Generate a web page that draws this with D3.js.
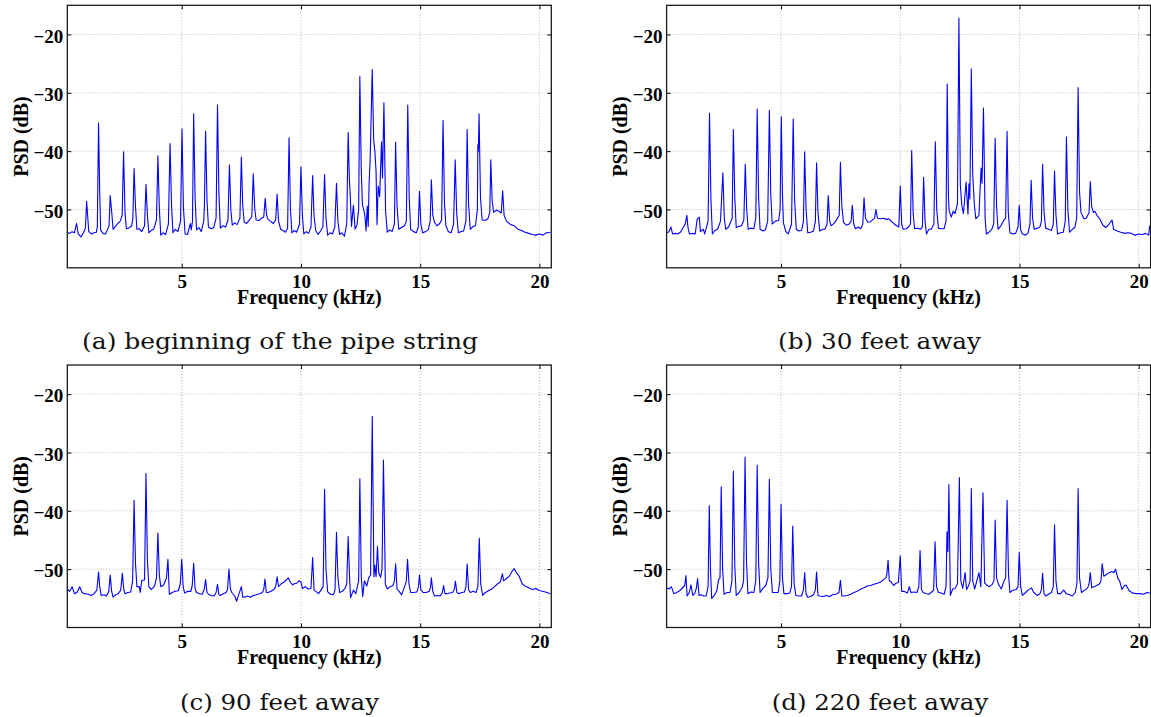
<!DOCTYPE html>
<html>
<head>
<meta charset="utf-8">
<script src="https://cdn.jsdelivr.net/npm/d3@7"></script>
<style>
    body { margin: 0; background: #fff; }
    svg text { font-family: "Liberation Serif", "Times New Roman", serif; }
</style>
</head>
<body>
<div id="chart"></div>
<script>

// tick values
const freqTicks = [5, 10, 15, 20];
const psdTicks = [-50, -40, -30, -20];

// sub-figure captions
const captionA = "(a) beginning of the pipe string";
const captionB = "(b) 30 feet away";
const captionC = "(c) 90 feet away";
const captionD = "(d) 220 feet away";

// PSD traces: [frequency kHz, PSD dB]
const spectrumA = [
    [0.20,-53.9],[0.30,-54.1],[0.40,-53.8],[0.50,-54.0],[0.59,-52.4],[0.66,-54.2],[0.77,-54.7],[0.88,-54.0],
    [0.96,-53.2],[1.01,-48.6],[1.05,-50.9],[1.10,-53.8],[1.22,-54.2],[1.32,-54.0],[1.42,-53.9],[1.46,-53.0],
    [1.51,-35.2],[1.56,-47.2],[1.60,-53.6],[1.70,-54.1],[1.80,-54.2],[1.88,-53.5],[1.95,-52.8],[2.00,-47.6],
    [2.06,-50.3],[2.12,-53.4],[2.20,-53.0],[2.32,-52.4],[2.42,-52.0],[2.50,-51.0],[2.56,-40.1],[2.62,-50.5],
    [2.68,-53.3],[2.78,-53.2],[2.90,-52.8],[2.95,-51.5],[3.00,-43.0],[3.06,-49.5],[3.12,-53.4],[3.22,-53.3],
    [3.32,-53.8],[3.44,-52.8],[3.50,-45.7],[3.56,-51.0],[3.62,-54.0],[3.72,-53.6],[3.82,-53.4],[3.94,-51.8],
    [4.00,-40.8],[4.06,-49.8],[4.12,-54.4],[4.22,-54.0],[4.32,-54.3],[4.44,-52.5],[4.51,-38.7],[4.57,-49.0],
    [4.63,-54.0],[4.72,-53.4],[4.84,-53.8],[4.95,-52.0],[5.01,-36.2],[5.07,-49.6],[5.14,-54.2],[5.24,-54.3],
    [5.36,-52.4],[5.40,-53.5],[5.45,-52.0],[5.50,-33.6],[5.56,-48.0],[5.62,-53.5],[5.72,-53.1],[5.82,-53.8],
    [5.92,-52.0],[5.95,-49.6],[6.00,-36.6],[6.06,-48.5],[6.12,-53.0],[6.24,-53.3],[6.34,-53.1],[6.44,-51.5],
    [6.50,-32.1],[6.56,-47.5],[6.62,-53.2],[6.72,-52.8],[6.84,-53.0],[6.94,-51.8],[7.00,-42.4],[7.06,-50.0],
    [7.12,-52.7],[7.22,-52.3],[7.32,-52.6],[7.44,-51.5],[7.50,-41.0],[7.56,-49.5],[7.62,-52.2],[7.72,-52.4],
    [7.84,-51.8],[7.94,-51.2],[8.00,-43.9],[8.06,-49.8],[8.12,-51.8],[8.24,-51.9],[8.34,-51.5],[8.44,-51.3],
    [8.50,-48.1],[8.56,-51.0],[8.62,-51.7],[8.72,-52.0],[8.84,-52.4],[8.94,-51.8],[9.00,-47.4],[9.06,-52.0],
    [9.15,-53.4],[9.25,-53.6],[9.35,-53.9],[9.44,-53.2],[9.50,-37.7],[9.56,-50.0],[9.62,-54.0],[9.72,-53.6],
    [9.82,-53.9],[9.94,-52.5],[10.00,-42.7],[10.06,-51.0],[10.12,-54.2],[10.22,-53.8],[10.32,-54.1],[10.42,-53.0],
    [10.49,-44.2],[10.55,-51.2],[10.62,-53.6],[10.72,-54.3],[10.82,-53.7],[10.92,-53.0],[10.99,-44.0],[11.05,-51.5],
    [11.12,-54.4],[11.22,-54.0],[11.32,-54.2],[11.42,-53.0],[11.49,-45.5],[11.55,-52.0],[11.62,-54.3],[11.72,-54.0],
    [11.82,-54.6],[11.92,-52.5],[11.98,-36.8],[12.03,-44.8],[12.06,-47.0],[12.12,-52.9],[12.20,-49.3],[12.27,-53.4],
    [12.35,-52.6],[12.42,-50.0],[12.47,-27.2],[12.53,-43.3],[12.58,-49.3],[12.63,-50.0],[12.68,-51.0],[12.73,-53.7],
    [12.78,-49.4],[12.82,-52.9],[12.86,-45.2],[12.90,-41.8],[12.99,-26.0],[13.05,-38.1],[13.10,-40.0],[13.15,-43.5],
    [13.19,-52.6],[13.24,-46.0],[13.30,-47.8],[13.38,-38.4],[13.42,-44.6],[13.48,-31.7],[13.55,-50.3],[13.62,-53.9],
    [13.72,-53.5],[13.82,-53.8],[13.92,-52.5],[13.97,-38.5],[14.03,-49.5],[14.10,-53.4],[14.22,-53.1],[14.34,-52.8],
    [14.42,-52.0],[14.48,-32.1],[14.54,-48.0],[14.60,-53.4],[14.72,-53.8],[14.84,-54.0],[14.92,-53.0],[14.97,-46.9],
    [15.03,-52.5],[15.10,-54.0],[15.22,-53.8],[15.34,-53.5],[15.42,-52.0],[15.47,-44.9],[15.53,-51.0],[15.60,-52.2],
    [15.70,-52.8],[15.82,-52.4],[15.90,-51.8],[15.96,-34.7],[16.02,-49.0],[16.08,-52.8],[16.18,-53.8],[16.30,-54.0],
    [16.40,-52.5],[16.47,-41.5],[16.53,-50.5],[16.60,-54.0],[16.70,-53.8],[16.82,-53.7],[16.92,-52.0],[16.97,-36.3],
    [17.03,-49.0],[17.10,-53.4],[17.22,-52.9],[17.32,-52.8],[17.40,-50.0],[17.42,-38.9],[17.44,-40.0],[17.47,-33.6],
    [17.53,-48.0],[17.60,-51.8],[17.72,-51.9],[17.84,-51.6],[17.92,-50.5],[17.96,-41.5],[18.02,-48.5],[18.08,-50.5],
    [18.20,-50.1],[18.30,-50.3],[18.40,-50.6],[18.46,-46.8],[18.52,-51.0],[18.62,-52.0],[18.80,-52.6],[18.95,-52.8],
    [19.10,-53.4],[19.25,-53.6],[19.40,-53.9],[19.55,-54.1],[19.70,-54.3],[19.85,-54.4],[20.00,-54.2],[20.15,-54.4],
    [20.30,-54.0],[20.46,-53.9]
];

const spectrumB = [
    [0.20,-54.0],[0.30,-53.8],[0.38,-53.0],[0.45,-54.2],[0.55,-54.1],[0.65,-54.2],[0.78,-53.9],[0.98,-52.5],
    [1.05,-51.0],[1.10,-53.2],[1.16,-54.2],[1.30,-54.1],[1.40,-54.2],[1.48,-51.7],[1.57,-51.3],[1.62,-53.8],
    [1.74,-53.4],[1.80,-54.2],[1.94,-52.0],[2.00,-33.5],[2.06,-48.5],[2.12,-54.2],[2.22,-53.6],[2.34,-53.4],
    [2.46,-52.0],[2.56,-43.7],[2.62,-51.5],[2.68,-53.4],[2.80,-53.0],[2.95,-51.5],[3.00,-36.3],[3.06,-48.0],
    [3.12,-53.1],[3.22,-52.9],[3.34,-52.8],[3.44,-51.8],[3.50,-42.2],[3.56,-50.0],[3.62,-53.4],[3.72,-53.2],
    [3.86,-53.3],[3.94,-51.5],[4.00,-32.8],[4.06,-48.0],[4.12,-53.4],[4.24,-53.7],[4.34,-53.5],[4.44,-52.0],
    [4.51,-33.0],[4.57,-47.5],[4.63,-52.5],[4.76,-52.0],[4.90,-51.9],[4.96,-50.0],[5.01,-34.1],[5.06,-47.5],
    [5.10,-52.3],[5.20,-53.8],[5.30,-54.2],[5.44,-52.5],[5.51,-34.5],[5.57,-48.5],[5.64,-53.4],[5.74,-53.7],
    [5.86,-53.6],[5.94,-52.0],[5.99,-40.1],[6.05,-50.0],[6.12,-54.0],[6.24,-53.9],[6.36,-53.7],[6.44,-52.0],
    [6.49,-42.0],[6.55,-50.5],[6.62,-53.7],[6.74,-53.4],[6.84,-53.4],[6.93,-52.5],[6.98,-47.6],[7.04,-52.0],
    [7.10,-52.8],[7.24,-52.3],[7.34,-51.7],[7.44,-51.0],[7.49,-41.9],[7.55,-49.5],[7.62,-52.2],[7.74,-52.7],
    [7.86,-52.5],[7.94,-52.0],[7.99,-49.3],[8.05,-52.5],[8.12,-53.3],[8.24,-53.0],[8.34,-53.3],[8.43,-52.5],
    [8.48,-48.0],[8.54,-51.5],[8.64,-52.2],[8.76,-52.1],[8.92,-51.5],[8.98,-50.0],[9.04,-51.5],[9.20,-51.6],
    [9.30,-51.5],[9.42,-51.7],[9.52,-51.6],[9.62,-52.0],[9.72,-52.4],[9.85,-52.8],[9.94,-53.0],[10.00,-46.0],
    [10.06,-52.5],[10.12,-53.4],[10.25,-53.3],[10.35,-53.0],[10.43,-52.5],[10.48,-39.9],[10.54,-50.5],[10.60,-53.3],
    [10.72,-53.2],[10.85,-53.4],[10.93,-53.0],[10.98,-44.5],[11.04,-52.0],[11.10,-54.2],[11.20,-53.4],[11.30,-53.4],
    [11.41,-52.5],[11.47,-38.4],[11.53,-50.0],[11.60,-53.2],[11.72,-53.3],[11.84,-53.3],[11.92,-52.0],[11.97,-28.5],
    [12.02,-47.7],[12.05,-50.2],[12.14,-51.3],[12.22,-50.3],[12.30,-50.7],[12.40,-49.0],[12.46,-17.2],[12.52,-45.8],
    [12.58,-49.3],[12.65,-50.7],[12.76,-45.3],[12.84,-50.8],[12.88,-45.6],[12.92,-48.2],[12.98,-25.9],[13.04,-44.1],
    [13.11,-49.3],[13.17,-51.6],[13.30,-51.0],[13.39,-42.9],[13.43,-45.5],[13.49,-32.6],[13.56,-51.6],[13.61,-54.2],
    [13.72,-53.9],[13.84,-53.4],[13.92,-52.5],[13.98,-37.8],[14.04,-49.5],[14.10,-53.4],[14.22,-52.8],[14.32,-52.0],
    [14.42,-51.5],[14.48,-36.6],[14.53,-50.5],[14.60,-54.0],[14.72,-54.2],[14.84,-54.1],[14.94,-53.0],[14.99,-49.3],
    [15.05,-53.5],[15.12,-54.2],[15.26,-54.4],[15.36,-54.0],[15.44,-52.5],[15.49,-45.0],[15.55,-51.5],[15.62,-53.4],
    [15.76,-53.2],[15.86,-53.0],[15.92,-52.0],[15.97,-42.2],[16.03,-50.5],[16.10,-53.2],[16.22,-53.4],[16.34,-53.6],
    [16.42,-52.5],[16.47,-43.4],[16.53,-51.0],[16.60,-54.2],[16.72,-54.0],[16.84,-53.9],[16.92,-52.0],[16.97,-37.6],
    [17.03,-50.0],[17.10,-53.9],[17.22,-53.4],[17.32,-53.1],[17.40,-51.5],[17.46,-29.1],[17.52,-47.0],[17.58,-50.5],
    [17.70,-51.6],[17.80,-51.5],[17.92,-50.5],[17.97,-45.2],[18.03,-49.5],[18.10,-50.5],[18.16,-50.3],[18.25,-51.0],
    [18.38,-51.7],[18.50,-52.7],[18.62,-53.1],[18.76,-52.5],[18.88,-51.8],[18.95,-53.4],[19.10,-53.7],[19.25,-53.9],
    [19.42,-54.1],[19.55,-54.0],[19.70,-54.1],[19.85,-54.4],[20.00,-54.2],[20.15,-54.3],[20.30,-54.1],[20.42,-54.4],
    [20.46,-52.8]
];

const spectrumC = [
    [0.20,-53.4],[0.30,-53.8],[0.40,-53.0],[0.50,-54.2],[0.62,-53.9],[0.72,-53.0],[0.82,-54.0],[0.92,-54.2],
    [1.08,-54.3],[1.20,-54.5],[1.32,-54.2],[1.44,-53.6],[1.51,-50.5],[1.56,-53.0],[1.62,-54.5],[1.74,-54.4],
    [1.84,-54.6],[1.94,-53.8],[2.00,-51.0],[2.06,-53.8],[2.12,-54.8],[2.22,-54.4],[2.34,-54.2],[2.44,-53.6],
    [2.51,-50.7],[2.57,-53.5],[2.62,-54.2],[2.74,-54.0],[2.86,-53.9],[2.94,-52.0],[3.00,-38.2],[3.06,-49.0],
    [3.12,-53.0],[3.22,-53.0],[3.26,-54.0],[3.32,-52.0],[3.44,-51.8],[3.50,-33.6],[3.56,-48.5],[3.62,-53.0],
    [3.72,-53.5],[3.86,-52.9],[3.94,-51.5],[4.00,-43.8],[4.06,-51.0],[4.12,-53.0],[4.24,-52.7],[4.36,-51.5],
    [4.42,-48.3],[4.48,-54.3],[4.60,-54.0],[4.72,-53.8],[4.86,-53.7],[4.94,-52.5],[5.00,-48.3],[5.06,-53.0],
    [5.12,-54.1],[5.26,-53.8],[5.38,-53.8],[5.44,-52.8],[5.50,-49.0],[5.56,-53.4],[5.62,-54.0],[5.74,-54.2],
    [5.86,-54.3],[5.94,-53.5],[6.00,-51.8],[6.06,-54.0],[6.12,-54.3],[6.24,-54.5],[6.36,-54.6],[6.44,-54.0],
    [6.50,-52.6],[6.56,-54.4],[6.62,-54.5],[6.74,-54.2],[6.86,-54.0],[6.92,-53.5],[6.98,-50.0],[7.04,-53.4],
    [7.10,-54.0],[7.22,-54.6],[7.30,-55.5],[7.38,-54.5],[7.50,-53.0],[7.56,-54.8],[7.64,-54.8],[7.76,-54.6],
    [7.88,-54.8],[8.00,-54.5],[8.12,-54.4],[8.26,-54.2],[8.38,-54.0],[8.44,-53.5],[8.49,-51.7],[8.55,-54.0],
    [8.62,-54.0],[8.74,-53.8],[8.86,-53.5],[8.94,-53.0],[9.00,-51.3],[9.06,-53.0],[9.20,-52.4],[9.30,-52.2],
    [9.47,-51.5],[9.55,-52.2],[9.65,-52.7],[9.72,-52.5],[9.82,-52.4],[9.92,-52.0],[10.00,-52.2],[10.06,-53.3],
    [10.18,-53.0],[10.30,-53.4],[10.42,-53.3],[10.49,-48.0],[10.55,-53.6],[10.62,-53.8],[10.74,-54.2],[10.85,-53.5],
    [10.93,-53.0],[10.99,-36.3],[11.05,-50.0],[11.12,-53.9],[11.24,-54.3],[11.36,-54.4],[11.43,-53.5],[11.49,-43.7],
    [11.55,-51.5],[11.62,-54.0],[11.74,-53.8],[11.86,-53.2],[11.92,-52.5],[11.98,-44.4],[12.04,-51.5],[12.08,-54.9],
    [12.20,-53.6],[12.30,-54.2],[12.42,-52.0],[12.47,-34.5],[12.53,-51.3],[12.59,-54.7],[12.66,-52.0],[12.76,-52.9],
    [12.84,-51.5],[12.92,-51.0],[12.99,-23.8],[13.06,-51.3],[13.10,-49.3],[13.15,-51.3],[13.21,-46.1],[13.26,-50.6],
    [13.34,-51.4],[13.40,-50.0],[13.46,-31.3],[13.54,-52.6],[13.62,-53.4],[13.74,-53.0],[13.86,-52.8],[13.92,-52.0],
    [13.97,-49.1],[14.03,-53.4],[14.12,-53.8],[14.22,-54.4],[14.35,-53.0],[14.42,-52.0],[14.47,-48.3],[14.53,-52.5],
    [14.60,-54.0],[14.72,-54.0],[14.86,-53.9],[14.93,-53.0],[14.97,-51.0],[15.03,-53.5],[15.12,-54.0],[15.26,-54.0],
    [15.38,-53.8],[15.43,-53.2],[15.47,-51.5],[15.53,-53.8],[15.60,-54.6],[15.72,-54.5],[15.84,-54.6],[15.93,-54.0],
    [15.98,-52.8],[16.04,-54.2],[16.12,-54.2],[16.24,-54.1],[16.36,-54.0],[16.43,-53.5],[16.48,-52.1],[16.54,-54.0],
    [16.62,-54.2],[16.74,-54.0],[16.86,-53.9],[16.92,-53.0],[16.97,-49.1],[17.03,-53.5],[17.10,-54.0],[17.22,-53.8],
    [17.34,-54.0],[17.42,-53.0],[17.48,-44.7],[17.54,-52.5],[17.62,-54.5],[17.74,-54.0],[17.86,-53.7],[18.00,-53.4],
    [18.12,-53.0],[18.25,-52.5],[18.36,-52.2],[18.45,-50.8],[18.50,-52.0],[18.62,-51.6],[18.74,-51.2],[18.85,-50.4],
    [18.94,-49.9],[19.04,-50.6],[19.15,-51.2],[19.28,-52.5],[19.40,-52.9],[19.55,-53.2],[19.70,-53.5],[19.85,-53.3],
    [19.98,-53.6],[20.12,-53.8],[20.25,-53.9],[20.46,-54.2]
];

const spectrumD = [
    [0.20,-53.2],[0.30,-53.4],[0.40,-53.0],[0.50,-54.2],[0.62,-54.0],[0.72,-53.8],[0.82,-53.4],[0.96,-52.8],
    [1.01,-51.1],[1.06,-54.6],[1.15,-54.0],[1.22,-52.7],[1.30,-54.5],[1.38,-54.2],[1.45,-53.2],[1.50,-51.6],
    [1.56,-54.5],[1.64,-54.4],[1.76,-54.6],[1.86,-54.6],[1.94,-53.0],[1.99,-39.1],[2.04,-50.0],[2.09,-55.0],
    [2.20,-54.5],[2.30,-53.8],[2.38,-51.8],[2.44,-51.5],[2.49,-35.9],[2.55,-50.0],[2.61,-54.3],[2.74,-54.0],
    [2.86,-54.0],[2.94,-52.0],[3.00,-33.2],[3.06,-49.5],[3.12,-54.5],[3.24,-54.0],[3.36,-53.2],[3.43,-52.0],
    [3.49,-30.8],[3.55,-48.5],[3.61,-54.2],[3.74,-53.9],[3.86,-54.0],[3.94,-52.0],[4.00,-32.2],[4.06,-49.0],
    [4.12,-54.0],[4.24,-53.3],[4.36,-52.8],[4.45,-51.5],[4.51,-34.6],[4.57,-50.0],[4.64,-54.0],[4.76,-54.0],
    [4.88,-54.0],[4.95,-52.0],[5.00,-38.9],[5.06,-51.5],[5.12,-54.2],[5.26,-54.2],[5.36,-54.1],[5.44,-53.0],
    [5.49,-42.6],[5.55,-52.5],[5.62,-54.5],[5.74,-54.6],[5.86,-54.6],[5.94,-53.5],[5.99,-50.6],[6.05,-54.2],
    [6.12,-54.8],[6.24,-54.7],[6.36,-54.4],[6.44,-53.5],[6.49,-50.5],[6.55,-54.5],[6.62,-54.6],[6.76,-54.7],
    [6.90,-54.5],[7.04,-54.7],[7.16,-54.4],[7.30,-54.3],[7.43,-54.0],[7.49,-51.9],[7.55,-54.6],[7.64,-54.6],
    [7.78,-54.5],[7.92,-54.3],[8.06,-54.0],[8.20,-53.8],[8.34,-53.4],[8.48,-53.2],[8.62,-52.9],[8.76,-52.8],
    [8.90,-52.6],[9.04,-52.4],[9.18,-52.2],[9.30,-51.8],[9.40,-51.5],[9.44,-50.8],[9.49,-48.5],[9.54,-52.0],
    [9.62,-52.2],[9.72,-52.8],[9.82,-52.4],[9.92,-52.3],[10.00,-47.7],[10.06,-53.8],[10.15,-53.8],[10.30,-54.1],
    [10.38,-53.0],[10.45,-54.0],[10.58,-53.9],[10.70,-54.0],[10.78,-53.0],[10.83,-46.8],[10.89,-53.5],[10.96,-54.0],
    [11.10,-54.2],[11.20,-54.3],[11.30,-54.0],[11.40,-53.6],[11.46,-45.3],[11.52,-53.0],[11.60,-54.0],[11.72,-54.1],
    [11.84,-54.3],[11.92,-53.0],[11.96,-43.6],[12.00,-47.0],[12.04,-35.5],[12.10,-54.5],[12.20,-53.4],[12.30,-53.3],
    [12.40,-52.5],[12.48,-34.3],[12.54,-52.0],[12.62,-53.3],[12.72,-50.6],[12.78,-53.5],[12.86,-52.9],[12.93,-52.0],
    [12.98,-36.2],[13.04,-52.0],[13.12,-53.4],[13.20,-52.2],[13.30,-50.6],[13.38,-53.0],[13.47,-36.9],[13.54,-52.4],
    [13.62,-52.7],[13.74,-53.0],[13.86,-52.6],[13.93,-52.0],[13.98,-41.6],[14.04,-51.5],[14.12,-52.6],[14.24,-53.4],
    [14.35,-52.0],[14.42,-51.5],[14.48,-38.2],[14.54,-51.0],[14.60,-54.0],[14.72,-53.6],[14.86,-53.5],[14.94,-53.0],
    [14.99,-47.1],[15.05,-53.0],[15.12,-54.5],[15.26,-54.0],[15.36,-53.6],[15.50,-53.2],[15.60,-54.0],[15.74,-54.5],
    [15.86,-54.2],[15.92,-53.5],[15.97,-50.7],[16.03,-54.2],[16.10,-54.6],[16.22,-54.3],[16.34,-54.0],[16.42,-53.0],
    [16.47,-42.4],[16.53,-52.0],[16.60,-54.2],[16.72,-54.2],[16.86,-53.6],[16.96,-54.2],[17.10,-54.4],[17.22,-54.6],
    [17.34,-54.0],[17.41,-52.5],[17.46,-36.2],[17.52,-51.5],[17.60,-54.0],[17.74,-53.6],[17.86,-53.2],[17.92,-52.5],
    [17.97,-50.6],[18.03,-53.2],[18.12,-53.0],[18.24,-52.8],[18.36,-52.5],[18.42,-52.0],[18.47,-49.1],[18.54,-51.2],
    [18.62,-51.0],[18.75,-50.6],[18.88,-50.4],[18.96,-50.6],[19.03,-50.0],[19.12,-51.5],[19.20,-52.0],[19.30,-53.5],
    [19.40,-52.8],[19.47,-52.7],[19.60,-53.7],[19.75,-54.1],[19.90,-54.2],[20.05,-54.2],[20.20,-54.3],[20.35,-54.0],
    [20.46,-54.1]
];


class PsdPanel {

    constructor(svg, id, pos, data, caption) {
        this.svg = svg;
        this.id = id;
        this.pos = pos;
        this.data = data;
        this.caption = caption;

        this.initVis();
    }

    initVis() {
        let vis = this;
        vis.width = 484;
        vis.height = 262.5;

        vis.g = vis.svg.append("g")
            .attr("transform", `translate(${vis.pos.left}, ${vis.pos.top})`);

        vis.x = d3.scaleLinear().domain([0.2, 20.5]).range([0, vis.width]);
        vis.y = d3.scaleLinear().domain([-60, -15]).range([vis.height, 0]);

        vis.g.append("clipPath").attr("id", "clip-" + vis.id)
            .append("rect").attr("width", vis.width).attr("height", vis.height);

        // dotted grid
        vis.g.append("g").selectAll("line.vgrid")
            .data(freqTicks).join("line")
            .attr("x1", d => vis.x(d)).attr("x2", d => vis.x(d))
            .attr("y1", 0).attr("y2", vis.height)
            .attr("stroke", "#b0b0b0").attr("stroke-width", 0.9)
            .attr("stroke-dasharray", "1,2");
        vis.g.append("g").selectAll("line.hgrid")
            .data(psdTicks).join("line")
            .attr("y1", d => vis.y(d)).attr("y2", d => vis.y(d))
            .attr("x1", 0).attr("x2", vis.width)
            .attr("stroke", "#b0b0b0").attr("stroke-width", 0.9)
            .attr("stroke-dasharray", "1,2");

        // trace
        vis.g.append("path")
            .datum(vis.data)
            .attr("clip-path", `url(#clip-${vis.id})`)
            .attr("fill", "none")
            .attr("stroke", "#0000ff")
            .attr("stroke-width", 1.1)
            .attr("stroke-linejoin", "round")
            .attr("d", d3.line()
                .x(d => vis.x(d[0]))
                .y(d => vis.y(d[1])));

        // axes, ticks pointing in like matlab
        let styleAxis = g => {
            g.select(".domain").remove();
            g.attr("font-family", "Liberation Serif, Times New Roman, serif")
                .attr("font-size", 19)
                .attr("font-weight", "bold");
        };

        vis.g.append("g")
            .attr("transform", `translate(0, ${vis.height})`)
            .call(d3.axisBottom(vis.x).tickValues(freqTicks).tickSize(-4).tickPadding(7).tickFormat(d3.format("d")))
            .call(styleAxis);
        vis.g.append("g")
            .call(d3.axisTop(vis.x).tickValues(freqTicks).tickSize(-4).tickFormat(""))
            .call(styleAxis);
        vis.g.append("g")
            .call(d3.axisLeft(vis.y).tickValues(psdTicks).tickSize(-4).tickPadding(4).tickFormat(d3.format("d")))
            .call(styleAxis)
            .selectAll("text").attr("dy", "0.4em");
        vis.g.append("g")
            .attr("transform", `translate(${vis.width}, 0)`)
            .call(d3.axisRight(vis.y).tickValues(psdTicks).tickSize(-4).tickFormat(""))
            .call(styleAxis);

        // box
        vis.g.append("rect")
            .attr("width", vis.width).attr("height", vis.height)
            .attr("fill", "none").attr("stroke", "#1a1a1a").attr("stroke-width", 1.3);

        // axis labels
        vis.g.append("text")
            .text("Frequency (kHz)")
            .attr("x", vis.width / 2).attr("y", vis.height + 36.6)
            .attr("text-anchor", "middle")
            .attr("font-size", "20px").attr("font-weight", "bold");

        vis.g.append("text")
            .text("PSD (dB)")
            .attr("transform", `translate(-39.3, ${vis.height / 2}) rotate(-90)`)
            .attr("text-anchor", "middle")
            .attr("font-size", "20px").attr("font-weight", "bold");

        // caption under the sub-figure
        vis.svg.append("text")
            .text(vis.caption)
            .attr("x", vis.pos.capX).attr("y", vis.pos.capY)
            .attr("text-anchor", "middle")
            .attr("textLength", vis.pos.capW)
            .attr("lengthAdjust", "spacingAndGlyphs")
            .style("font-family", "DejaVu Serif, serif")
            .attr("font-size", "22px")
            .attr("fill", "#111");
    }
}

let svg = d3.select("#chart").append("svg")
    .attr("width", 1151)
    .attr("height", 717);

new PsdPanel(svg, "a", {left: 67.3, top: 5.3, capX: 280, capY: 349, capW: 396}, spectrumA, captionA);
new PsdPanel(svg, "b", {left: 666.6, top: 5.3, capX: 879.5, capY: 349, capW: 203}, spectrumB, captionB);
new PsdPanel(svg, "c", {left: 67.3, top: 365, capX: 279.5, capY: 709.5, capW: 199}, spectrumC, captionC);
new PsdPanel(svg, "d", {left: 666.6, top: 365, capX: 880, capY: 709.5, capW: 216.6}, spectrumD, captionD);

</script>
</body>
</html>
